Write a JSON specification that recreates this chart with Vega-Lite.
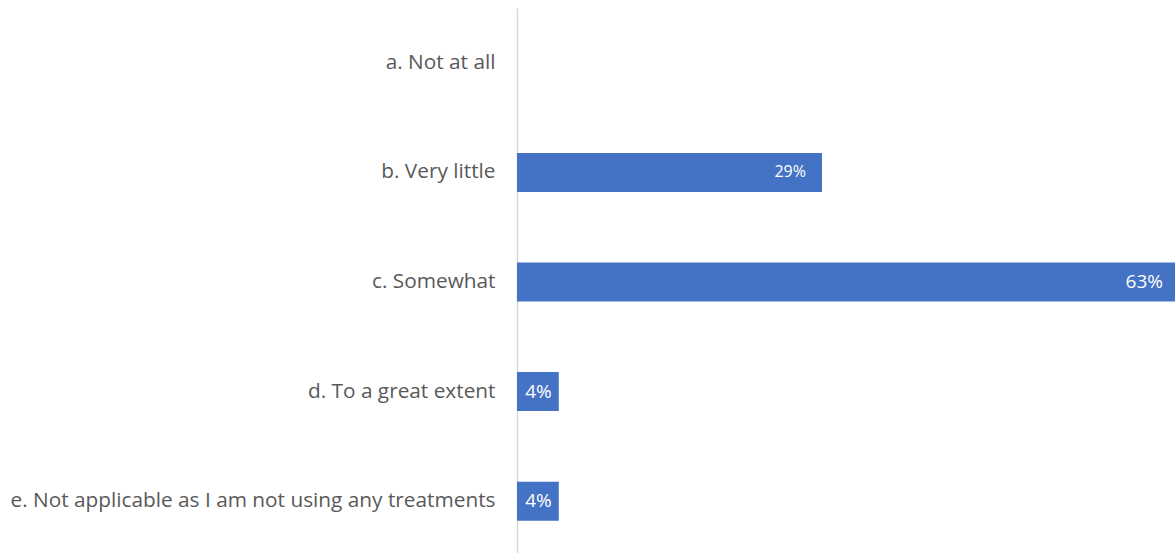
{
  "$schema": "https://vega.github.io/schema/vega-lite/v6.json",
  "width": 658,
  "height": 545,
  "autosize": {"type": "none"},
  "padding": {"left": 517, "top": 8, "right": 0, "bottom": 0},
  "background": "white",
  "config": {"view": {"stroke": null}, "font": "Open Sans"},
  "data": {"values": [
    {"label": "a. Not at all", "value": 0},
    {"label": "b. Very little", "value": 0.292},
    {"label": "c. Somewhat", "value": 0.63},
    {"label": "d. To a great extent", "value": 0.04},
    {"label": "e. Not applicable as I am not using any treatments", "value": 0.04}
  ]},
  "encoding": {
    "y": {
      "field": "label", "type": "nominal", "sort": null,
      "scale": {"range": [0, 548], "paddingInner": 0.644, "paddingOuter": 0.322},
      "axis": {
        "title": null, "ticks": false, "grid": false,
        "domainColor": "#d9d9d9", "domainWidth": 1.5,
        "labelFont": "Open Sans", "labelFontSize": 20.8, "labelColor": "#595959",
        "labelPadding": 22, "labelLimit": 600
      }
    },
    "x": {
      "field": "value", "type": "quantitative",
      "scale": {"domain": [0, 0.63], "nice": false, "zero": true},
      "axis": null
    },
    "text": {"field": "value", "type": "quantitative", "format": ".0%"}
  },
  "layer": [
    {"mark": {"type": "bar", "color": "#4472C4"}},
    {
      "transform": [{"filter": "datum.value > 0 && datum.value < 0.1"}],
      "mark": {"type": "text", "align": "right", "baseline": "middle", "dx": -7, "fontSize": 19, "color": "white", "font": "Open Sans"}
    },
    {
      "transform": [{"filter": "datum.value > 0.2 && datum.value < 0.5"}],
      "mark": {"type": "text", "align": "right", "baseline": "middle", "dx": -16, "fontSize": 16, "color": "white", "font": "Open Sans"}
    },
    {
      "transform": [{"filter": "datum.value > 0.5"}],
      "mark": {"type": "text", "align": "right", "baseline": "middle", "dx": -12, "fontSize": 19, "color": "white", "font": "Open Sans"}
    }
  ]
}
